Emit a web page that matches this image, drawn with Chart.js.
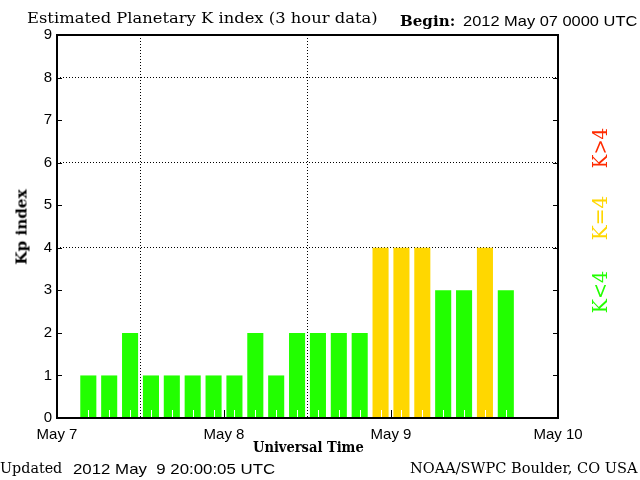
<!DOCTYPE html>
<html>
<head>
<meta charset="utf-8">
<script src="https://cdn.jsdelivr.net/npm/chart.js@4.4.1/dist/chart.umd.min.js"></script>
<style>
    body { margin: 0; background: #fff; }
    #wrap { position: relative; width: 640px; height: 480px; overflow: hidden; }
    canvas { position: absolute; left: 0; top: 0; }
    .t { position: absolute; white-space: pre; color: #000; line-height: 1; transform-origin: left top; }
    .serif { font-family: "DejaVu Serif", "Liberation Serif", serif; }
    .bold { font-weight: bold; }
    .sans { font-family: "Liberation Sans", Arial, sans-serif; }
    .rot { transform-origin: center center; }
</style>
</head>
<body>
<div id="wrap">
    <canvas id="kpChart" width="640" height="480"></canvas>

    <div class="t serif" data-w="351" style="left:27px; top:11px; font-size:15px;">Estimated Planetary K index (3 hour data)</div>
    <div class="t serif bold" data-w="55" style="left:400px; top:14px; font-size:14px;">Begin:</div>
    <div class="t sans" data-w="174" style="left:463px; top:13px; font-size:15px;">2012 May 07 0000 UTC</div>

    <div class="t serif bold rot" data-w="75" data-rot="1" style="left:22px; top:227px; font-size:15px;">Kp index</div>
    <div class="t serif bold" data-w="111" style="left:253px; top:440px; font-size:14px;">Universal Time</div>

    <div class="t serif" data-w="62" style="left:0px; top:461px; font-size:15px;">Updated</div>
    <div class="t sans" data-w="202" style="left:73px; top:461px; font-size:15px;">2012 May  9 20:00:05 UTC</div>
    <div class="t serif" data-w="228" style="left:410px; top:461px; font-size:15px;">NOAA/SWPC Boulder, CO USA</div>

    <div class="t serif rot" data-w="40" data-rot="1" style="left:600px; top:148px; font-size:20px; color:#ff2a00;">K&gt;4</div>
    <div class="t serif rot" data-w="44" data-rot="1" style="left:600px; top:218px; font-size:20px; color:#ffd700;">K=4</div>
    <div class="t serif rot" data-w="42" data-rot="1" style="left:600px; top:292px; font-size:20px; color:#22ff00;">K&lt;4</div>
</div>

<script>
// 3-hour slots starting 2012 May 07 00 UTC (8 per day, 3 days)
const slots = ["07/00","07/03","07/06","07/09","07/12","07/15","07/18","07/21",
               "08/00","08/03","08/06","08/09","08/12","08/15","08/18","08/21",
               "09/00","09/03","09/06","09/09","09/12","09/15","09/18","09/21"];
const kpValues = [null, 1, 1, 2, 1, 1, 1, 1,
                  1, 2, 1, 2, 2, 2, 2, 4,
                  4, 4, 3, 3, 4, 3, null, null];
const dayLabels = ["May 7", "May 8", "May 9", "May 10"];
const yTicks = [0, 1, 2, 3, 4, 5, 6, 7, 8, 9];
const gridLevels = [4, 6, 8];

const GREEN = "#22ff00";
const GOLD = "#ffd700";
const RED = "#ff2a00";

function barColor(v) {
    if (v > 4) return RED;
    if (v === 4) return GOLD;
    return GREEN;
}

// squeeze/stretch the text blocks to the widths seen in the original
document.querySelectorAll(".t[data-w]").forEach(el => {
    const sx = el.dataset.w / el.offsetWidth;
    if (el.dataset.rot) {
        el.style.transform = `translate(-50%, -50%) rotate(-90deg) scaleX(${sx})`;
    } else {
        el.style.transform = `scaleX(${sx})`;
    }
});

// box, inward tick marks and white slot marks
const framePlugin = {
    id: "frame",
    afterDatasetsDraw(chart) {
        const { ctx, chartArea: a, scales } = chart;
        ctx.save();
        ctx.lineWidth = 1;

        // white 3-hour marks at the bottom of the bars
        ctx.strokeStyle = "#fff";
        ctx.beginPath();
        slots.forEach((s, i) => {
            const x = Math.round(scales.x.getPixelForValue(i)) + 0.5;
            ctx.moveTo(x, a.bottom);
            ctx.lineTo(x, a.bottom - 8);
        });
        ctx.stroke();

        ctx.strokeStyle = "#000";
        ctx.beginPath();
        yTicks.forEach(v => {
            const y = Math.round(scales.y.getPixelForValue(v)) + 0.5;
            ctx.moveTo(a.left, y); ctx.lineTo(a.left + 5, y);
            ctx.moveTo(a.right, y); ctx.lineTo(a.right - 5, y);
        });
        [1, 2].forEach(d => {
            const x = Math.round(scales.days.getPixelForValue(d)) + 0.5;
            ctx.moveTo(x, a.bottom); ctx.lineTo(x, a.bottom - 8);
        });
        ctx.stroke();

        ctx.lineWidth = 2;
        ctx.strokeRect(a.left, a.top, a.right - a.left, a.bottom - a.top);
        ctx.restore();
    }
};

const ctx = document.getElementById("kpChart").getContext("2d");
new Chart(ctx, {
    type: "bar",
    data: {
        labels: slots,
        datasets: [{
            data: kpValues,
            backgroundColor: kpValues.map(barColor),
            borderWidth: 0,
            barPercentage: 0.77,
            categoryPercentage: 1.0
        }]
    },
    options: {
        responsive: false,
        animation: false,
        events: [],
        layout: { padding: { left: 0, right: 82, top: 35, bottom: 0 } },
        plugins: {
            legend: { display: false },
            tooltip: { enabled: false }
        },
        scales: {
            x: {
                display: false,
                offset: true
            },
            days: {
                type: "linear",
                position: "bottom",
                offset: false,
                min: 0,
                max: 3,
                afterBuildTicks: s => { s.ticks = dayLabels.map((d, i) => ({ value: i })); },
                afterFit: s => { s.height = 62; },
                border: { display: false, dash: [1, 2] },
                grid: {
                    color: c => (c.tick && (c.tick.value === 1 || c.tick.value === 2)) ? "#000" : "rgba(0,0,0,0)",
                    lineWidth: 1,
                    drawTicks: false
                },
                ticks: {
                    padding: 8,
                    color: "#000",
                    font: { family: "Liberation Sans", size: 15 },
                    maxRotation: 0,
                    callback: v => dayLabels[v]
                }
            },
            y: {
                min: 0,
                max: 9,
                afterBuildTicks: s => { s.ticks = yTicks.map(v => ({ value: v })); },
                afterFit: s => { s.width = 57; },
                border: { display: false, dash: [1, 2] },
                grid: {
                    color: c => (c.tick && gridLevels.includes(c.tick.value)) ? "#000" : "rgba(0,0,0,0)",
                    drawTicks: false,
                    lineWidth: 1
                },
                ticks: {
                    padding: 5,
                    color: "#000",
                    font: { family: "Liberation Sans", size: 15 }
                }
            }
        }
    },
    plugins: [framePlugin]
});
</script>
</body>
</html>
